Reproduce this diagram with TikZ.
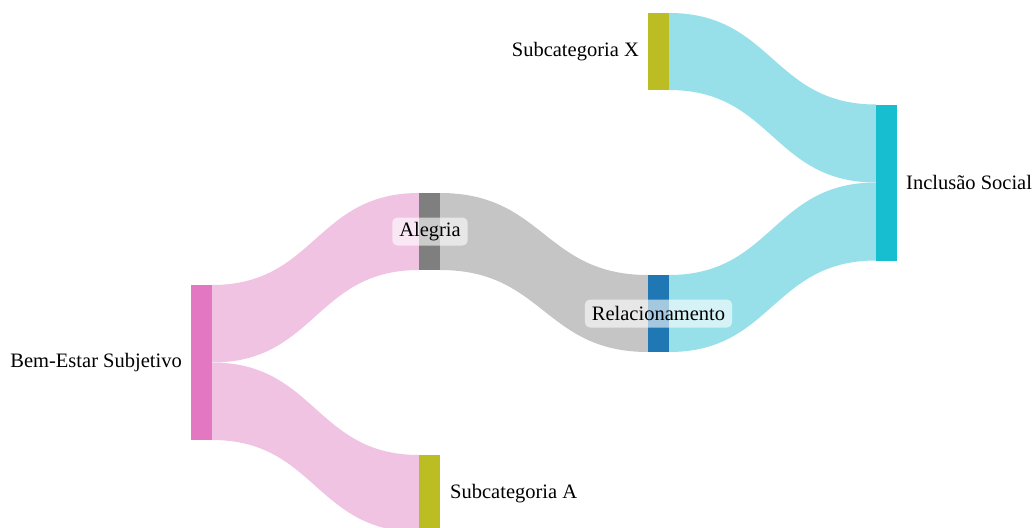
\documentclass[tikz,border=0pt]{standalone}
\usepackage{fontspec}
\setmainfont{Liberation Serif}
\begin{document}
\begin{tikzpicture}[x=1pt,y=-1pt,
  nodebar/.style={draw=none,minimum width=21pt,inner sep=0pt,outer sep=0pt,anchor=north west},
  lbl/.style={font=\fontsize{20.5}{24}\selectfont,inner sep=0pt,text=black},
  tag/.style={font=\fontsize{20.5}{24}\selectfont,fill=white,fill opacity=0.6,text opacity=1,rounded corners=5pt,inner xsep=7pt,inner ysep=4pt,minimum height=28pt}]
\useasboundingbox (0,0) rectangle (1035,527);
\begin{scope}
\clip (0,0) rectangle (1035,527);
% flows
\newcommand{\flow}[7]{\fill[#7] (#1,#2) .. controls ({(#1+#4)/2},#2) and ({(#1+#4)/2},#5) .. (#4,#5) -- (#4,#6) .. controls ({(#1+#4)/2},#6) and ({(#1+#4)/2},#3) .. (#1,#3) -- cycle;}
\definecolor{pinkF}{HTML}{F0C3E3}
\definecolor{grayF}{HTML}{C5C5C5}
\definecolor{cyanF}{HTML}{97E0E9}
\definecolor{pinkN}{HTML}{E377C2}
\definecolor{grayN}{HTML}{7F7F7F}
\definecolor{oliveN}{HTML}{BCBD22}
\definecolor{blueN}{HTML}{1F77B4}
\definecolor{cyanN}{HTML}{17BECF}
\flow{212}{285}{362.5}{419}{193}{270}{pinkF}
\flow{212}{362.5}{440}{419}{455}{532}{pinkF}
\flow{440}{193}{270}{648}{275}{352}{grayF}
\flow{669}{13}{90}{876}{104.5}{182.5}{cyanF}
\flow{669}{275}{352}{876}{182.5}{260.5}{cyanF}
% nodes
\node[nodebar,fill=pinkN,minimum height=155pt] (bem) at (191,285) {};
\node[nodebar,fill=grayN,minimum height=77pt] (ale) at (419,193) {};
\node[nodebar,fill=oliveN,minimum height=77pt] (suba) at (419,455) {};
\node[nodebar,fill=blueN,minimum height=77pt] (rel) at (648,275) {};
\node[nodebar,fill=oliveN,minimum height=77pt] (subx) at (648,13) {};
\node[nodebar,fill=cyanN,minimum height=156pt] (inc) at (876,104.5) {};
\end{scope}
% labels
\node[lbl,anchor=east] (lbem) at (182,362.5) {Bem-Estar Subjetivo};
\node[lbl,anchor=west] (lsuba) at (450,493.5) {Subcategoria A};
\node[lbl,anchor=east] (lsubx) at (639,51.5) {Subcategoria X};
\node[lbl,anchor=west] (linc) at (906,182.5) {Inclusão Social};
\node[tag] (tale) at (430,231.5) {Alegria};
\node[tag] (trel) at (658.5,313.5) {Relacionamento};
\end{tikzpicture}
\end{document}
